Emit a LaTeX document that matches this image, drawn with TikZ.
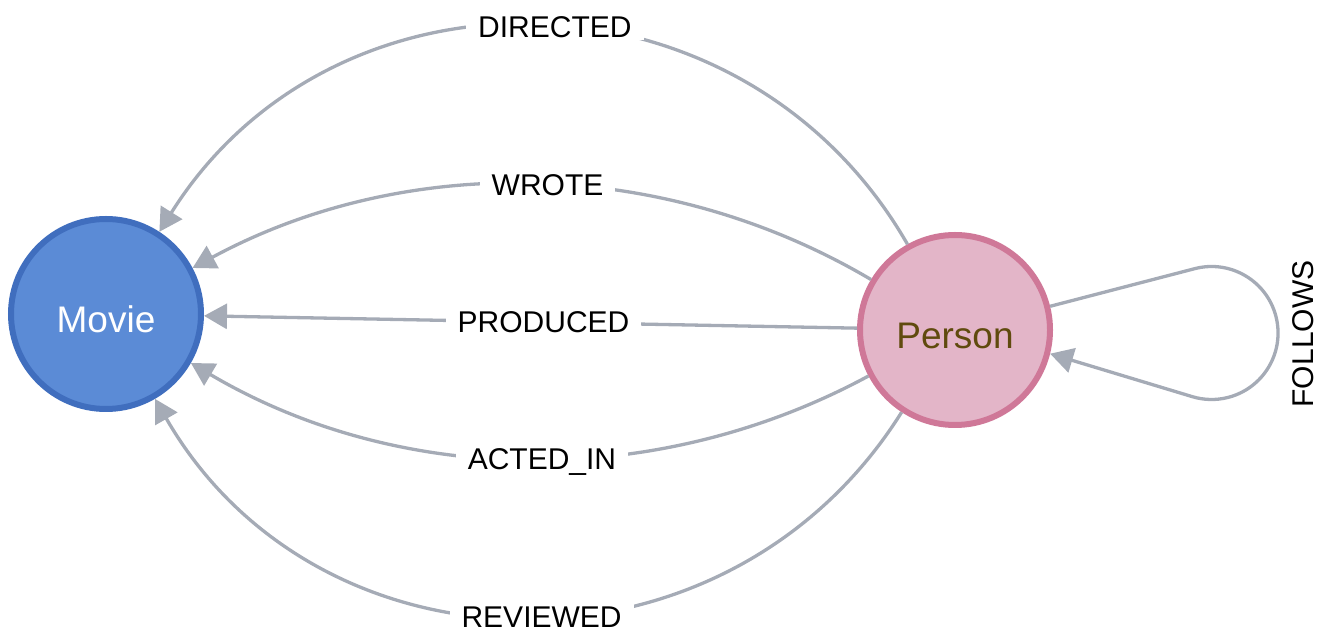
\documentclass[tikz,border=0pt]{standalone}
\usepackage{fontspec}
\setmainfont{Liberation Sans}
\usetikzlibrary{arrows.meta}
\definecolor{moviefill}{HTML}{5B8BD6}
\definecolor{movieborder}{HTML}{406EBE}
\definecolor{personfill}{HTML}{E3B5C8}
\definecolor{personborder}{HTML}{CF7898}
\definecolor{persontext}{HTML}{604A0E}
\definecolor{edgegray}{HTML}{A5ABB6}
\begin{document}
\begin{tikzpicture}[x=1pt,y=1pt,
  entity/.style={circle, minimum size=190pt, inner sep=0pt, line width=6pt, font=\fontsize{37}{37}\selectfont, text height=37.5pt, text depth=0pt},
  rel/.style={draw=edgegray, line width=3.3pt, -{Triangle[length=23pt,width=25pt]}},
  lbl/.style={fill=white, font=\fontsize{30}{30}\selectfont, inner xsep=12pt, inner ysep=3pt, text height=21.5pt, text depth=0pt, pos=0.48}]
\useasboundingbox (0,0) rectangle (1324,634);
\node[entity, draw=movieborder, fill=moviefill, text=white] (m) at (106,320) {Movie};
\node[entity, draw=personborder, fill=personfill, text=persontext] (p) at (955,304) {Person};
% relationships
\draw[rel] (p.119.9) .. controls +(119.9:330) and +(57.9:330) .. (m.57.9) node[lbl] (ld) {DIRECTED};
\draw[rel] (p.149.4) .. controls +(149.4:242) and +(28.4:242) .. (m.28.4) node[lbl] (lw) {WROTE};
\draw[rel] (p) -- (m) node[lbl] (lp) {PRODUCED};
\draw[rel] (p.208.4) .. controls +(208.4:242) and +(-30.6:242) .. (m.-30.6) node[lbl] (la) {ACTED\_IN};
\draw[rel] (p.237.9) .. controls +(237.9:329) and +(-60.1:329) .. (m.-60.1) node[lbl] (lr) {REVIEWED};
% self loop
\coordinate (lt) at (1195,365.4);
\draw[rel] (p.14.3) -- (lt) arc[start angle=104.4, end angle=-106.6, radius=66.5] -- (p.-14.3);
\node[rotate=90, font=\fontsize{30}{30}\selectfont, inner sep=0pt, text height=21.5pt, text depth=0pt] (lf) at (1302.5,300) {FOLLOWS};
\end{tikzpicture}
\end{document}
